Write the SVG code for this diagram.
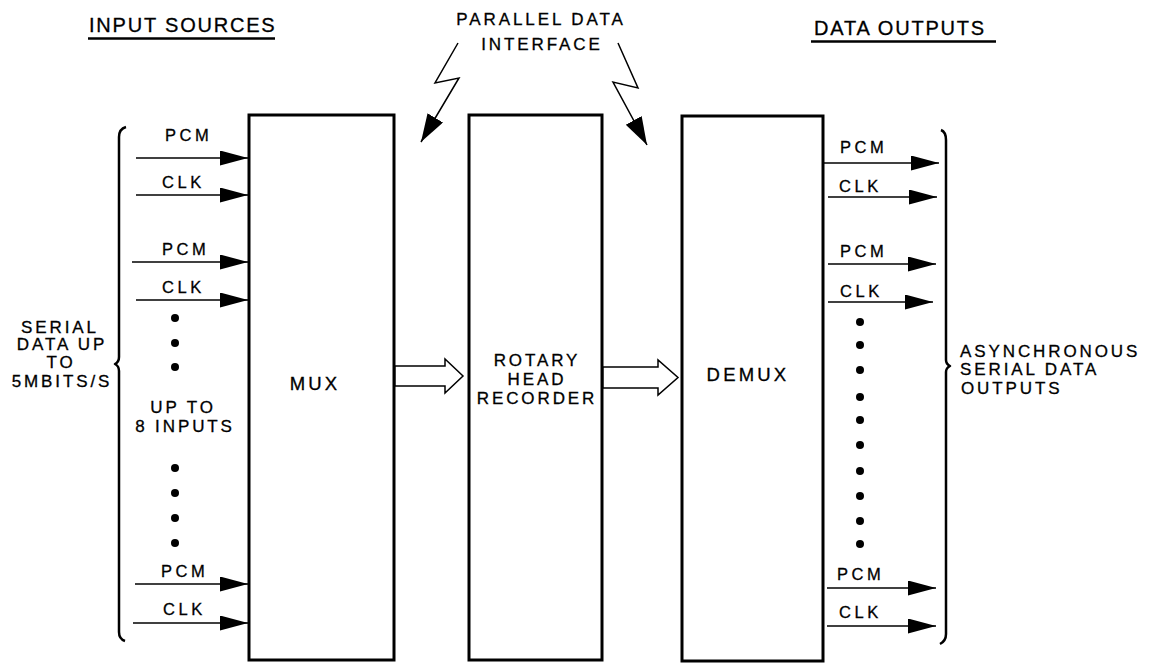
<svg xmlns="http://www.w3.org/2000/svg" width="1158" height="664" viewBox="0 0 1158 664">
  <style>
    text { font-family: "Liberation Sans", Arial, sans-serif; fill: #000; stroke: #000; stroke-width: 0.3; }
    .hdr { font-size: 20px; letter-spacing: 1.8px; }
    .lbl { font-size: 17px; letter-spacing: 2.9px; }
    .sig { font-size: 16.5px; letter-spacing: 3.6px; }
    .big { font-size: 18.5px; letter-spacing: 3.2px; }
    .box { fill: #fff; stroke: #000; stroke-width: 3; }
    .wire { stroke: #000; stroke-width: 1.5; fill: none; }
    .brace { stroke: #000; stroke-width: 2.5; fill: none; stroke-linejoin: round; }
    .bus { fill: #fff; stroke: #000; stroke-width: 1.5; stroke-linejoin: miter; }
    .dot { fill: #000; }
  </style>
  <defs>
    <marker id="head" markerUnits="userSpaceOnUse" markerWidth="30" markerHeight="16" refX="28" refY="7.5" orient="auto">
      <path d="M0,0 L28,7.5 L0,15 z" fill="#000"/>
    </marker>
    <marker id="headBig" markerUnits="userSpaceOnUse" markerWidth="30" markerHeight="20" refX="28" refY="9" orient="auto">
      <path d="M0,0 L28,9 L0,18 z" fill="#000"/>
    </marker>
  </defs>

  <!-- section headings -->
  <g id="heading-inputs">
    <text class="hdr" x="89" y="32">INPUT SOURCES</text>
    <line x1="88" y1="38.5" x2="275" y2="38.5" stroke="#000" stroke-width="2.5"/>
  </g>
  <g id="heading-outputs">
    <text class="hdr" x="814" y="35">DATA OUTPUTS</text>
    <line x1="811" y1="41.5" x2="996" y2="41.5" stroke="#000" stroke-width="2.5"/>
  </g>
  <g id="parallel-interface">
    <text class="lbl" x="541" y="25" text-anchor="middle">PARALLEL DATA</text>
    <text class="lbl" x="542" y="50" text-anchor="middle">INTERFACE</text>
  </g>

  <!-- blocks -->
  <g id="mux">
    <rect class="box" x="249" y="115" width="145" height="545"/>
    <text class="big" x="315" y="390" text-anchor="middle">MUX</text>
  </g>
  <g id="recorder">
    <rect class="box" x="469" y="115" width="133" height="545"/>
    <text class="lbl" x="537" y="366" text-anchor="middle">ROTARY</text>
    <text class="lbl" x="537" y="385" text-anchor="middle">HEAD</text>
    <text class="lbl" x="537" y="404" text-anchor="middle">RECORDER</text>
  </g>
  <g id="demux">
    <rect class="box" x="682" y="116" width="141" height="545"/>
    <text class="big" x="748" y="381" text-anchor="middle">DEMUX</text>
  </g>

  <!-- input group -->
  <g id="inputs">
    <path class="brace" d="M126,127 Q119,129 119,137 L119,357 Q119,362 115,364 Q119,366 119,371 L119,632 Q119,639 125,641"/>
    <text class="lbl" x="60" y="333" text-anchor="middle">SERIAL</text>
    <text class="lbl" x="62" y="350" text-anchor="middle">DATA UP</text>
    <text class="lbl" x="61" y="368" text-anchor="middle">TO</text>
    <text class="lbl" x="62" y="387" text-anchor="middle">5MBITS/S</text>
    <text class="sig" x="165" y="141">PCM</text>
    <text class="sig" x="162" y="188">CLK</text>
    <text class="sig" x="162" y="255">PCM</text>
    <text class="sig" x="162" y="293">CLK</text>
    <text class="lbl" x="183" y="413" text-anchor="middle">UP TO</text>
    <text class="lbl" x="185" y="432" text-anchor="middle">8 INPUTS</text>
    <text class="sig" x="161" y="577">PCM</text>
    <text class="sig" x="163" y="615">CLK</text>
    <circle class="dot" cx="175" cy="318" r="4"/>
    <circle class="dot" cx="175" cy="343" r="4"/>
    <circle class="dot" cx="175" cy="367" r="4"/>
    <circle class="dot" cx="175" cy="468" r="4"/>
    <circle class="dot" cx="175" cy="493" r="4"/>
    <circle class="dot" cx="175" cy="518" r="4"/>
    <circle class="dot" cx="175" cy="543" r="4"/>
  </g>

  <!-- output group -->
  <g id="outputs">
    <path class="brace" d="M941,130 Q946,132 946,140 L946,360 Q946,364 950,366 Q946,368 946,372 L946,634 Q946,641 940,644"/>
    <text class="lbl" x="960" y="357">ASYNCHRONOUS</text>
    <text class="lbl" x="960" y="375">SERIAL DATA</text>
    <text class="lbl" x="961" y="394">OUTPUTS</text>
    <text class="sig" x="840" y="153">PCM</text>
    <text class="sig" x="839" y="192">CLK</text>
    <text class="sig" x="840" y="257">PCM</text>
    <text class="sig" x="840" y="297">CLK</text>
    <text class="sig" x="837" y="580">PCM</text>
    <text class="sig" x="839" y="618">CLK</text>
    <circle class="dot" cx="860" cy="322" r="4"/>
    <circle class="dot" cx="860" cy="345" r="4"/>
    <circle class="dot" cx="860" cy="370" r="4"/>
    <circle class="dot" cx="860" cy="397" r="4"/>
    <circle class="dot" cx="860" cy="420" r="4"/>
    <circle class="dot" cx="860" cy="445" r="4"/>
    <circle class="dot" cx="860" cy="471" r="4"/>
    <circle class="dot" cx="860" cy="496" r="4"/>
    <circle class="dot" cx="860" cy="521" r="4"/>
    <circle class="dot" cx="860" cy="544" r="4"/>
  </g>

  <!-- connectors -->
  <g id="connectors">
    <!-- serial inputs into MUX -->
    <line class="wire" x1="136" y1="158" x2="248" y2="158" marker-end="url(#head)"/>
    <line class="wire" x1="136" y1="195" x2="248" y2="195" marker-end="url(#head)"/>
    <line class="wire" x1="132" y1="262" x2="248" y2="262" marker-end="url(#head)"/>
    <line class="wire" x1="136" y1="300" x2="248" y2="300" marker-end="url(#head)"/>
    <line class="wire" x1="135" y1="584" x2="248" y2="584" marker-end="url(#head)"/>
    <line class="wire" x1="133" y1="623" x2="248" y2="623" marker-end="url(#head)"/>
    <!-- serial outputs from DEMUX -->
    <line class="wire" x1="824" y1="163" x2="939" y2="163" marker-end="url(#head)"/>
    <line class="wire" x1="828" y1="197" x2="937" y2="197" marker-end="url(#head)"/>
    <line class="wire" x1="828" y1="264" x2="936" y2="264" marker-end="url(#head)"/>
    <line class="wire" x1="828" y1="302" x2="933" y2="302" marker-end="url(#head)"/>
    <line class="wire" x1="827" y1="588" x2="936" y2="588" marker-end="url(#head)"/>
    <line class="wire" x1="827" y1="626" x2="936" y2="626" marker-end="url(#head)"/>
    <!-- parallel buses -->
    <polygon class="bus" points="395,366 445,366 445,359 463,376 445,393 445,386 395,386"/>
    <polygon class="bus" points="603,367 658,367 658,360 678,377.5 658,395 658,388 603,388"/>
    <!-- parallel data interface pointers -->
    <polyline class="wire" stroke-width="1.3" points="458,43 435,83 459,78 421,142" marker-end="url(#headBig)"/>
    <polyline class="wire" stroke-width="1.3" points="618,43 638,88 613,82 647,145" marker-end="url(#headBig)"/>
  </g>
</svg>
